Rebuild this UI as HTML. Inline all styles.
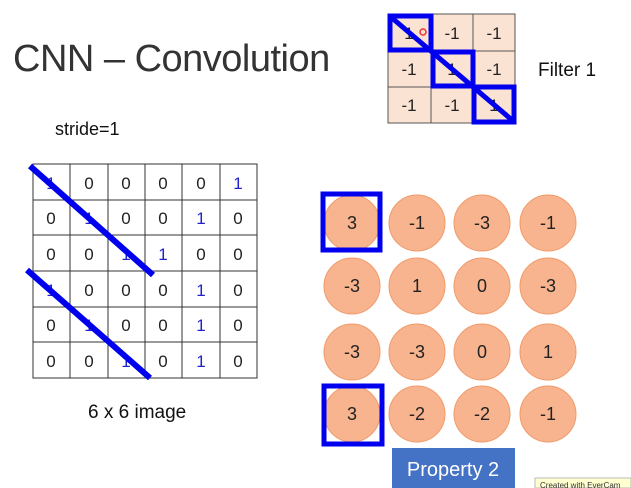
<!DOCTYPE html>
<html><head><style>
body{margin:0;width:631px;height:488px;background:#fff;overflow:hidden;font-family:"Liberation Sans",sans-serif;position:relative}
.t{position:absolute;white-space:nowrap}
</style></head><body>
<div class="t" style="left:13px;top:38px;font-size:38px;color:#333;letter-spacing:-0.5px">CNN – Convolution</div>
<div class="t" style="left:55px;top:119px;font-size:18px;color:#111">stride=1</div>
<div class="t" style="left:538px;top:60px;font-size:19px;color:#111">Filter 1</div>
<div class="t" style="left:88px;top:402px;font-size:19px;color:#111">6 x 6 image</div>
<svg width="631" height="488" style="position:absolute;left:0;top:0" font-family="Liberation Sans, sans-serif">
<g font-size="17" text-anchor="middle" fill="#222">
<rect x="388" y="14" width="127" height="109" fill="#fbe3d4" stroke="#555" stroke-width="1"/>
<line x1="431" y1="14" x2="431" y2="123" stroke="#555"/><line x1="473" y1="14" x2="473" y2="123" stroke="#555"/>
<line x1="388" y1="51" x2="515" y2="51" stroke="#555"/><line x1="388" y1="87" x2="515" y2="87" stroke="#555"/>
<text x="409" y="39">1</text><text x="452" y="39">-1</text><text x="494" y="39">-1</text>
<text x="409" y="75">-1</text><text x="452" y="75">1</text><text x="494" y="75">-1</text>
<text x="409" y="111">-1</text><text x="452" y="111">-1</text><text x="494" y="111">1</text>
</g>
<g fill="none" stroke="#0000ee" stroke-width="5">
<rect x="390" y="16" width="41" height="34"/><rect x="433" y="52" width="40" height="34"/><rect x="474" y="87" width="40" height="35"/>
<line x1="392" y1="18" x2="512" y2="120"/>
</g>
<circle cx="423" cy="32" r="3" fill="none" stroke="#e33" stroke-width="1.5"/>
<g stroke="#333" stroke-width="1">
<rect x="33" y="164" width="224" height="214" fill="#fff"/>
<line x1="70" y1="164" x2="70" y2="378"/><line x1="108" y1="164" x2="108" y2="378"/><line x1="145" y1="164" x2="145" y2="378"/><line x1="182" y1="164" x2="182" y2="378"/><line x1="220" y1="164" x2="220" y2="378"/>
<line x1="33" y1="200" x2="257" y2="200"/><line x1="33" y1="235" x2="257" y2="235"/><line x1="33" y1="271" x2="257" y2="271"/><line x1="33" y1="307" x2="257" y2="307"/><line x1="33" y1="342" x2="257" y2="342"/>
</g>
<g font-size="17" text-anchor="middle" fill="#222">
<text x="51" y="189" fill="#22c">1</text><text x="89" y="189">0</text><text x="126" y="189">0</text><text x="163" y="189">0</text><text x="201" y="189">0</text><text x="238" y="189" fill="#22c">1</text>
<text x="51" y="224">0</text><text x="89" y="224" fill="#22c">1</text><text x="126" y="224">0</text><text x="163" y="224">0</text><text x="201" y="224" fill="#22c">1</text><text x="238" y="224">0</text>
<text x="51" y="260">0</text><text x="89" y="260">0</text><text x="126" y="260" fill="#22c">1</text><text x="163" y="260" fill="#22c">1</text><text x="201" y="260">0</text><text x="238" y="260">0</text>
<text x="51" y="296" fill="#22c">1</text><text x="89" y="296">0</text><text x="126" y="296">0</text><text x="163" y="296">0</text><text x="201" y="296" fill="#22c">1</text><text x="238" y="296">0</text>
<text x="51" y="331">0</text><text x="89" y="331" fill="#22c">1</text><text x="126" y="331">0</text><text x="163" y="331">0</text><text x="201" y="331" fill="#22c">1</text><text x="238" y="331">0</text>
<text x="51" y="367">0</text><text x="89" y="367">0</text><text x="126" y="367" fill="#22c">1</text><text x="163" y="367">0</text><text x="201" y="367" fill="#22c">1</text><text x="238" y="367">0</text>
</g>
<g stroke="#0000ee" stroke-width="6">
<line x1="30" y1="166" x2="153" y2="275"/><line x1="27" y1="270" x2="150" y2="378"/>
</g>
<g fill="#f8b48e" stroke="#f09a6a" stroke-width="1">
<circle cx="352" cy="223" r="28"/><circle cx="417" cy="223" r="28"/><circle cx="482" cy="223" r="28"/><circle cx="548" cy="223" r="28"/>
<circle cx="352" cy="286" r="28"/><circle cx="417" cy="286" r="28"/><circle cx="482" cy="286" r="28"/><circle cx="548" cy="286" r="28"/>
<circle cx="352" cy="352" r="28"/><circle cx="417" cy="352" r="28"/><circle cx="482" cy="352" r="28"/><circle cx="548" cy="352" r="28"/>
<circle cx="352" cy="414" r="28"/><circle cx="417" cy="414" r="28"/><circle cx="482" cy="414" r="28"/><circle cx="548" cy="414" r="28"/>
</g>
<g font-size="18" text-anchor="middle" fill="#222">
<text x="352" y="229">3</text><text x="417" y="229">-1</text><text x="482" y="229">-3</text><text x="548" y="229">-1</text>
<text x="352" y="292">-3</text><text x="417" y="292">1</text><text x="482" y="292">0</text><text x="548" y="292">-3</text>
<text x="352" y="358">-3</text><text x="417" y="358">-3</text><text x="482" y="358">0</text><text x="548" y="358">1</text>
<text x="352" y="420">3</text><text x="417" y="420">-2</text><text x="482" y="420">-2</text><text x="548" y="420">-1</text>
</g>
<g fill="none" stroke="#0000ee" stroke-width="5">
<rect x="323" y="194" width="57" height="56"/><rect x="324" y="386" width="58" height="58"/>
</g>
<rect x="392" y="448" width="123" height="40" fill="#4472c4"/>
<text x="453" y="476" font-size="20" fill="#fff" text-anchor="middle">Property 2</text>
<rect x="535" y="478" width="96" height="10" fill="#ffffd0" stroke="#bbb"/>
<text x="540" y="488" font-size="8" fill="#333">Created with EverCam</text>
</svg>
</body></html>
